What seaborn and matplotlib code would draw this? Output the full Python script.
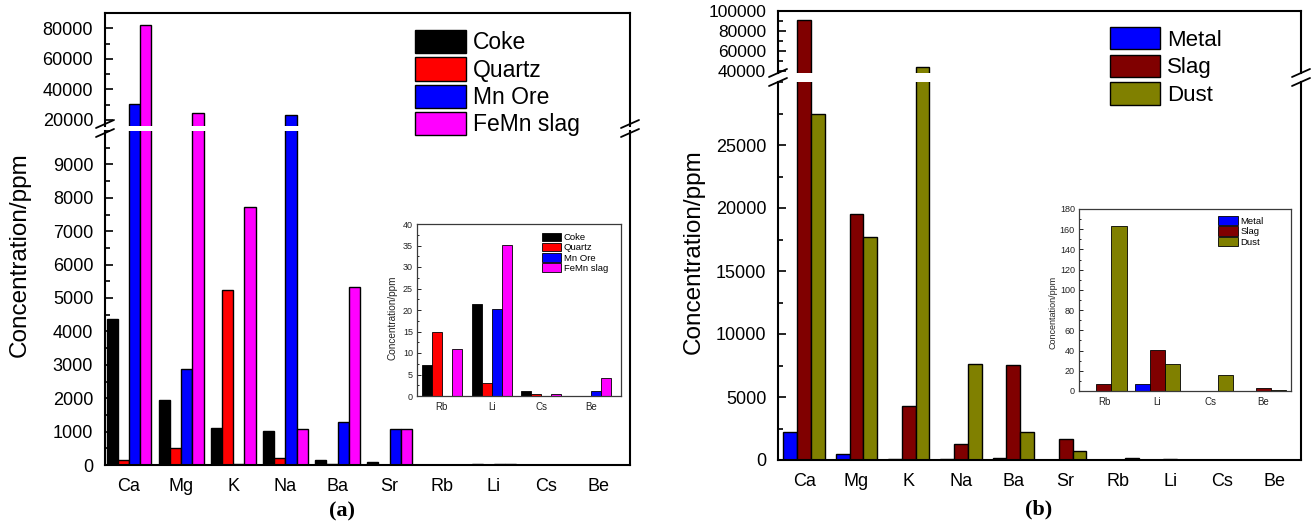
import matplotlib
matplotlib.use("Agg")
import matplotlib.pyplot as plt
from matplotlib.lines import Line2D
from matplotlib.patches import Patch
from matplotlib.ticker import MultipleLocator, StrMethodFormatter
import pandas as pd
import seaborn as sns

# ---------------- data (concentration, ppm) ----------------
elements = ["Ca", "Mg", "K", "Na", "Ba", "Sr", "Rb", "Li", "Cs", "Be"]
trace = ["Rb", "Li", "Cs", "Be"]

raw_samples = ["Coke", "Quartz", "Mn Ore", "FeMn slag"]
coke = [4380, 1950, 1120, 1020, 150, 80, 7.3, 21.5, 1.2, 0.0]
quartz = [140, 500, 5250, 210, 30, 5, 14.8, 3.0, 0.5, 0.0]
mn_ore = [30500, 2870, 40, 23500, 1290, 1080, 0.0, 20.3, 0.0, 1.1]
femn_slag = [82000, 24800, 7720, 1080, 5330, 1080, 11.0, 35.2, 0.4, 4.1]

product_samples = ["Metal", "Slag", "Dust"]
metal = [2220, 480, 90, 50, 180, 30, 0.0, 6.6, 0.0, 0.0]
slag = [91000, 19520, 4290, 1270, 7560, 1690, 6.6, 40.6, 0.0, 3.3]
dust = [27460, 17700, 44000, 7620, 2220, 710, 162.7, 26.7, 15.8, 1.3]

raw_colors = ["#000000", "#ff0000", "#0000ff", "#ff00ff"]
product_colors = ["#0000ff", "#800000", "#808000"]

# axis ticks
a_low_ticks = [0, 1000, 2000, 3000, 4000, 5000, 6000, 7000, 8000, 9000]
a_high_ticks = [20000, 40000, 60000, 80000]
b_low_ticks = [0, 5000, 10000, 15000, 20000, 25000]
b_high_ticks = [40000, 60000, 80000, 100000]
a_inset_ticks = [0, 5, 10, 15, 20, 25, 30, 35, 40]
b_inset_ticks = [0, 20, 40, 60, 80, 100, 120, 140, 160, 180]


def long_form(series, names):
    df = pd.DataFrame(dict(zip(names, series)))
    df.insert(0, "element", elements)
    return df.melt(id_vars="element", var_name="sample", value_name="ppm")


raw = long_form([coke, quartz, mn_ore, femn_slag], raw_samples)
prod = long_form([metal, slag, dust], product_samples)

# ---------------- figure setup ----------------
sns.set_theme(style="ticks")
plt.rcParams.update({
    "font.family": ["Liberation Sans", "DejaVu Sans"],
    "axes.linewidth": 1.5,
    "axes.edgecolor": "black",
    "axes.facecolor": "white",
    "figure.facecolor": "white",
    "xtick.color": "black",
    "ytick.color": "black",
    "text.color": "black",
})

W, H = 1314, 525
fig = plt.figure(figsize=(W / 100, H / 100), dpi=100)


def rect(x0, y0, x1, y1):
    """Axes rectangle from pixel edges measured from the top-left corner."""
    return [x0 / W, 1 - y1 / H, (x1 - x0) / W, (y1 - y0) / H]


def bars(ax, data, order, names, colors, width, lw):
    sns.barplot(data=data, x="element", y="ppm", hue="sample", order=order,
                hue_order=names, palette=colors, saturation=1, width=width,
                gap=0, edgecolor="black", linewidth=lw, errorbar=None,
                legend=False, ax=ax)
    ax.set_xlabel("")
    ax.set_ylabel("")


def style_main(ax, ticks, minor, lim, show_x, hidden, tick_size):
    ax.set_yticks(ticks)
    ax.set_ylim(*lim)
    ax.yaxis.set_major_formatter(StrMethodFormatter("{x:.0f}"))
    ax.yaxis.set_minor_locator(MultipleLocator(minor))
    ax.tick_params(axis="y", which="both", direction="in", left=True,
                   right=False, width=1.2, labelsize=tick_size, pad=8.5)
    ax.tick_params(axis="y", which="major", length=6)
    ax.tick_params(axis="y", which="minor", length=3.5)
    ax.tick_params(axis="x", length=0, labelsize=13, pad=9.5,
                   labelbottom=show_x)
    ax.spines[hidden].set_visible(False)


def style_inset(ax, ticks, minor, lim):
    ax.set_yticks(ticks)
    ax.set_ylim(*lim)
    ax.yaxis.set_minor_locator(MultipleLocator(minor))
    ax.tick_params(axis="y", which="both", direction="in", left=True,
                   right=False, width=0.6, labelsize=6.5, pad=3,
                   labelcolor="#222222")
    ax.tick_params(axis="y", which="major", length=3)
    ax.tick_params(axis="y", which="minor", length=1.6)
    ax.tick_params(axis="x", length=0, labelsize=7, pad=4,
                   labelcolor="#222222")
    for s in ax.spines.values():
        s.set_linewidth(0.9)
        s.set_edgecolor("#3a3a3a")


def break_marks(x, yc):
    for dy in (-4.5, 4.5):
        fig.add_artist(Line2D([(x - 9) / W, (x + 9) / W],
                              [1 - (yc + dy + 4) / H, 1 - (yc + dy - 4) / H],
                              color="black", lw=1.3))


def legend(handles_names, colors, anchor, size, hl, hh, ls, lw):
    handles = [Patch(facecolor=c, edgecolor="black", linewidth=lw)
               for c in colors]
    fig.legend(handles, handles_names, loc="upper left",
               bbox_to_anchor=(anchor[0] / W, 1 - anchor[1] / H),
               frameon=False, fontsize=size, handlelength=hl,
               handleheight=hh, labelspacing=ls, handletextpad=0.3,
               borderpad=0, borderaxespad=0)


# ---------------- panel (a): raw materials ----------------
a_hi = fig.add_axes(rect(105, 13, 630, 126))
a_lo = fig.add_axes(rect(105, 131, 630, 465))
for ax in (a_hi, a_lo):
    bars(ax, raw, elements, raw_samples, raw_colors, 0.86, 1.0)
    ax.set_xlim(-0.46, 9.61)
style_main(a_hi, a_high_ticks, 10000, (16000, 90000), False, "bottom", 13)
style_main(a_lo, a_low_ticks, 500, (0, 10000), True, "top", 13)
break_marks(105, 128.5)
break_marks(630, 128.5)

a_in = fig.add_axes(rect(417, 224, 621, 396))
bars(a_in, raw[raw["element"].isin(trace)], trace, raw_samples, raw_colors,
     0.8, 0.6)
a_in.set_xlim(-0.5, 3.6)
style_inset(a_in, a_inset_ticks, 2.5, (0, 40))

legend(raw_samples, raw_colors, (415, 30), 16.5, 2.23, 1.18, 0.13, 1.0)
legend(raw_samples, raw_colors, (542, 233), 6.8, 2.0, 1.0, 0.06, 0.6)

fig.text(20 / W, 1 - 255 / H, "Concentration/ppm", rotation=90,
         ha="center", va="center", fontsize=17.5)
fig.text(393 / W, 1 - 318 / H, "Concentration/ppm", rotation=90,
         ha="center", va="center", fontsize=7.2, color="#222222")
fig.text(342 / W, 1 - 511 / H, "(a)", ha="center", va="center",
         fontsize=16, fontweight="bold", family="Liberation Serif")

# ---------------- panel (b): smelting products ----------------
b_hi = fig.add_axes(rect(778, 11, 1301, 73))
b_lo = fig.add_axes(rect(778, 82, 1301, 460))
for ax in (b_hi, b_lo):
    bars(ax, prod, elements, product_samples, product_colors, 0.79, 1.0)
    ax.set_xlim(-0.5, 9.5)
style_main(b_hi, b_high_ticks, 10000, (38000, 100000), False, "bottom", 12.5)
style_main(b_lo, b_low_ticks, 2500, (0, 30000), True, "top", 13)
break_marks(778, 77.5)
break_marks(1301, 77.5)

b_in = fig.add_axes(rect(1079, 209, 1291, 391))
bars(b_in, prod[prod["element"].isin(trace)], trace, product_samples,
     product_colors, 0.85, 0.6)
b_in.set_xlim(-0.47, 3.52)
style_inset(b_in, b_inset_ticks, 10, (0, 180))

legend(product_samples, product_colors, (1110, 27), 16, 2.25, 1.17, 0.18, 1.0)
legend(product_samples, product_colors, (1218, 216), 6.8, 2.1, 1.17, 0.05, 0.6)

fig.text(694 / W, 1 - 252 / H, "Concentration/ppm", rotation=90,
         ha="center", va="center", fontsize=17.5)
fig.text(1053 / W, 1 - 312 / H, "Concentation/ppm", rotation=90,
         ha="center", va="center", fontsize=6.5, color="#222222")
fig.text(1039 / W, 1 - 509 / H, "(b)", ha="center", va="center",
         fontsize=16, fontweight="bold", family="Liberation Serif")

fig.savefig("out.png", dpi=100)
